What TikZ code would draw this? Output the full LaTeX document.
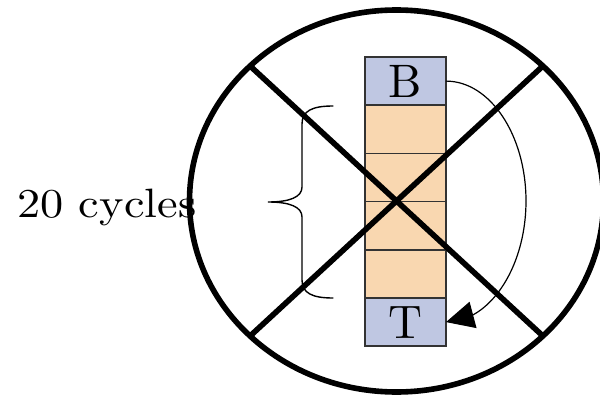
\documentclass[tikz,border=0pt]{standalone}
\usepackage{fontspec}
\newfontfamily\labelfont{lmroman10-regular.otf}
\usetikzlibrary{arrows.meta,bending}
\definecolor{cellblue}{HTML}{BFC7E2}
\definecolor{cellorange}{HTML}{F9D7B0}
\definecolor{cellline}{HTML}{333333}
\begin{document}
\begin{tikzpicture}[x=1pt,y=-1pt,
  cell/.style={draw=cellline,line width=1.5pt,minimum width=81pt,minimum height=48.2pt,inner sep=0pt,outer sep=0pt},
  bluecell/.style={cell,fill=cellblue,font=\labelfont\fontsize{47}{49}\selectfont},
  orangecell/.style={cell,fill=cellorange},
  thickline/.style={line width=5.6pt},
  bracestyle/.style={line width=1.4pt,line cap=round},
  cyclearrow/.style={line width=1.2pt,-{Triangle[length=28pt,width=27pt]}}]
\useasboundingbox (0,0) rectangle (600,396);

% label for the bracketed cycles
\node[anchor=base west,inner sep=0pt,xscale=1.13,font=\labelfont\fontsize{41}{43}\selectfont] (lbl) at (17,217) {20 cycles};

% stack of cells
\node[bluecell]   (B)  at (405.5,81.1)  {B};
\node[orangecell] (c1) at (405.5,129.3) {};
\node[orangecell] (c2) at (405.5,177.5) {};
\node[orangecell] (c3) at (405.5,225.7) {};
\node[orangecell] (c4) at (405.5,273.9) {};
\node[bluecell]   (T)  at (405.5,322.1) {T};

% brace around the orange cells
\coordinate (bt) at (333,106);
\coordinate (bb) at (333,298);
\coordinate (btip) at (268,202);
\draw[bracestyle] (bt) .. controls (312,106) and (302,111) .. (302,124)
  -- (302,187) .. controls (302,197) and (290,202) .. (btip)
  .. controls (290,202) and (302,207) .. (302,217)
  -- (302,280) .. controls (302,293) and (312,298) .. (bb);

% return arrow from B down to T
\coordinate (bend) at (526,201);
\draw[cyclearrow] (B.east) .. controls +(44,0) and +(0,-66) .. (bend)
  .. controls +(0,66) and +(44,0) .. (T.east);

% crossed-out ellipse
\coordinate (o) at (396.5,201);
\draw[thickline] (o) ellipse [x radius=207, y radius=191];
\coordinate (ul) at (250.1,66);
\coordinate (ur) at (542.9,66);
\coordinate (ll) at (250.1,336);
\coordinate (lr) at (542.9,336);
\draw[thickline] (ul) -- (lr);
\draw[thickline] (ur) -- (ll);
\end{tikzpicture}
\end{document}
